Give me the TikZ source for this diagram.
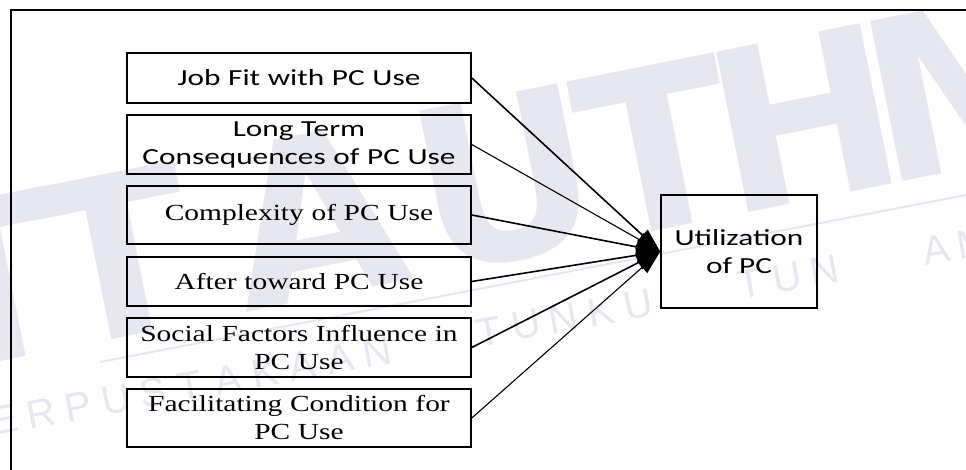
\documentclass[tikz,border=0pt]{standalone}
\usepackage{fontspec}
\usetikzlibrary{arrows.meta}
% wide sans face for the first two factors and the outcome, wide serif for the rest
\newfontfamily\sansface[FakeStretch=1.36]{Carlito}
\newfontfamily\serifface[FakeStretch=1.28]{Liberation Serif}
\newfontfamily\markface{Liberation Sans}
\newfontfamily\bigmarkface{DejaVu Sans Bold}
\definecolor{markcol}{RGB}{231,231,241}

\begin{document}
\begin{tikzpicture}[x=1pt,y=-1pt,
  factor/.style={draw, line width=1.6pt, minimum width=344pt, inner sep=0pt,
    align=center, text width=340pt},
  sanstext/.style={font=\sansface\fontsize{23}{28}\selectfont},
  seriftext/.style={font=\serifface\fontsize{23}{28}\selectfont},
  link/.style={line width=1.6pt, -{Triangle[length=24pt,width=15pt]}},
  thinlink/.style={line width=1.1pt, -{Triangle[length=24pt,width=15pt]}},
  markletter/.style={text=markcol, inner sep=0pt, rotate=10.3,
    font=\markface\fontsize{40}{40}\selectfont},
  bigletter/.style={text=markcol, inner sep=0pt, anchor=base, rotate=11.3,
    font=\bigmarkface\fontsize{224}{224}\selectfont}]
\useasboundingbox (0,0) rectangle (966,470);

% library stamp behind the diagram: large initials, a rule and the spaced name
\foreach \ch/\cx in {T/5, T/132, A/330, U/521, T/672, H/820, M/992}
  \node[bigletter] (big\cx) at (\cx,{333-0.2*(\cx-145)}) {\ch};
\coordinate (markA) at (100,362);
\coordinate (markB) at (966,195);
\draw[markcol, line width=2pt] (markA) -- (markB);
\foreach \ch [count=\i] in {P,E,R,P,U,S,T,A,K,A,A,N,{},{},T,U,N,K,U,{},{},T,U,N,{},{},A,M,I,N,A,H}
  \node[markletter] (mark\i) at ({4+(\i-2)*37.3},{420-(\i-2)*6.8}) {\ch};

% outer frame: only its top and left sides fall inside the page
\coordinate (frameTR) at (966,10);
\coordinate (frameTL) at (11,10);
\coordinate (frameBL) at (11,470);
\draw[line width=2.5pt] (frameTR) -- (frameTL) -- (frameBL);

% factor boxes
\node[factor, sanstext, minimum height=50pt]  (jobfit)   at (299,78)    {Job Fit with PC Use};
\node[factor, sanstext, minimum height=59pt]  (longterm) at (299,144.5) {Long Term\\Consequences of PC Use};
\node[factor, seriftext, minimum height=58pt] (complex)  at (299,215)   {Complexity of PC Use};
\node[factor, seriftext, minimum height=49pt] (after)    at (299,281.5) {After toward PC Use};
\node[factor, seriftext, minimum height=59pt] (social)   at (299,347.5) {Social Factors Influence in\\PC Use};
\node[factor, seriftext, minimum height=58pt] (facil)    at (299,418)   {Facilitating Condition for\\PC Use};

% outcome box
\node[draw, line width=1.6pt, sanstext, minimum width=156pt, minimum height=113pt,
  inner sep=0pt, align=center] (util) at (739,251.5) {Utilization\\of PC};

% connectors
\draw[link]     (jobfit.east)   -- (util.west);
\draw[thinlink] (longterm.east) -- (util.west);
\draw[link]     (complex.east)  -- (util.west);
\draw[link]     (after.east)    -- (util.west);
\draw[link]     (social.east)   -- (util.west);
\draw[thinlink] (facil.east)    -- (util.west);
\end{tikzpicture}
\end{document}
